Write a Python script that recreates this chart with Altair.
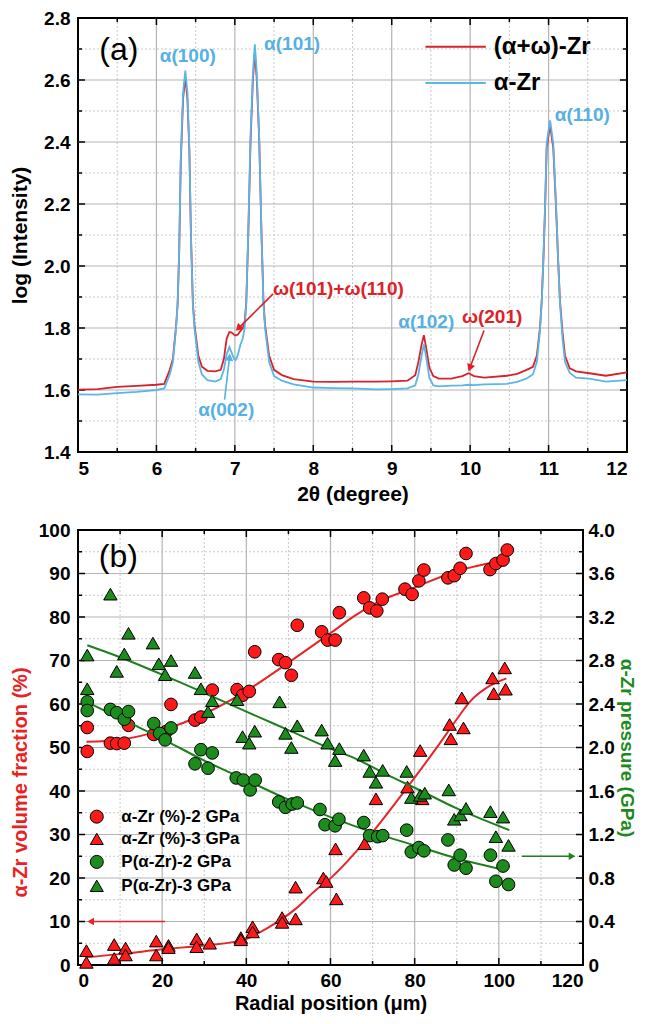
import math
import altair as alt
import pandas as pd

FONT = "Liberation Sans"
RED_LINE = "#d8222a"
BLUE_LINE = "#5ab6e6"
RED_TXT = "#dc2127"
BLUE_TXT = "#55b0e3"
PT_RED = "#ff1a1a"
PT_GREEN = "#1c8c1c"
FIT_RED = "#e3262b"
FIT_GREEN = "#1f7f1f"
GRID_C = "#b4b4b4"
GRID_M = "#c8c8c8"

# ---------------- Panel (a): XRD patterns ----------------
two_theta = [5.00, 5.25, 5.50, 5.75, 6.00, 6.10, 6.17, 6.21, 6.25, 6.27, 6.29, 6.31, 6.34, 6.368,
             6.395, 6.42, 6.44, 6.465, 6.485, 6.535, 6.58, 6.65, 6.75, 6.82, 6.86, 6.895, 6.93,
             6.96, 6.99, 7.01, 7.04, 7.07, 7.10, 7.125, 7.145, 7.17, 7.20, 7.23, 7.255, 7.28,
             7.31, 7.34, 7.365, 7.385, 7.437, 7.50, 7.60, 7.75, 8.00, 8.25, 8.50, 8.80, 9.00,
             9.20, 9.30, 9.34, 9.38, 9.41, 9.44, 9.48, 9.53, 9.60, 9.76, 9.90, 9.98, 10.05,
             10.18, 10.47, 10.60, 10.72, 10.80, 10.85, 10.89, 10.913, 10.935, 10.956, 10.976,
             11.019, 11.06, 11.095, 11.12, 11.145, 11.18, 11.21, 11.27, 11.35, 11.52, 11.73, 12.00]
log_red = [1.601, 1.603, 1.610, 1.613, 1.617, 1.620, 1.665, 1.700, 1.805, 1.876, 2.040, 2.330, 2.540, 2.610,
           2.540, 2.370, 2.100, 1.880, 1.810, 1.710, 1.675, 1.662, 1.660, 1.665, 1.700, 1.765, 1.787,
           1.785, 1.778, 1.776, 1.779, 1.790, 1.800, 1.820, 1.880, 2.090, 2.400, 2.600, 2.690, 2.600,
           2.410, 2.100, 1.885, 1.810, 1.710, 1.665, 1.648, 1.635, 1.627, 1.626, 1.627, 1.627, 1.628,
           1.630, 1.648, 1.690, 1.745, 1.777, 1.735, 1.672, 1.645, 1.637, 1.637, 1.645, 1.654, 1.645,
           1.640, 1.646, 1.652, 1.665, 1.675, 1.710, 1.800, 1.890, 2.030, 2.190, 2.380,
           2.455, 2.380, 2.190, 2.030, 1.890, 1.780, 1.710, 1.670, 1.660, 1.654, 1.646, 1.657]
log_blue = [1.586, 1.585, 1.590, 1.594, 1.600, 1.605, 1.650, 1.690, 1.800, 1.876, 2.050, 2.350, 2.560, 2.630,
            2.560, 2.380, 2.100, 1.876, 1.800, 1.690, 1.650, 1.632, 1.627, 1.635, 1.665, 1.715, 1.739,
            1.720, 1.700, 1.697, 1.715, 1.745, 1.765, 1.800, 1.876, 2.100, 2.420, 2.620, 2.715, 2.620,
            2.420, 2.100, 1.876, 1.800, 1.690, 1.645, 1.630, 1.618, 1.608, 1.606, 1.605, 1.602, 1.603,
            1.605, 1.615, 1.650, 1.710, 1.747, 1.705, 1.640, 1.615, 1.612, 1.614, 1.615, 1.617, 1.616,
            1.618, 1.620, 1.626, 1.637, 1.650, 1.690, 1.790, 1.883, 2.030, 2.200, 2.396,
            2.470, 2.396, 2.200, 2.030, 1.883, 1.760, 1.690, 1.655, 1.640, 1.637, 1.627, 1.632]

peak_text = ["α(100)", "α(101)", "α(110)", "α(102)", "α(002)", "ω(101)+ω(110)", "ω(201)"]
peak_x = [6.40, 7.73, 11.43, 9.44, 6.89, 8.32, 10.28]
peak_y = [2.679, 2.717, 2.487, 1.818, 1.537, 1.926, 1.834]
peak_col = [BLUE_TXT, BLUE_TXT, BLUE_TXT, BLUE_TXT, BLUE_TXT, RED_TXT, RED_TXT]

arrow_a_x1 = [7.487, 10.177, 6.869]
arrow_a_y1 = [1.910, 1.792, 1.569]
arrow_a_x2 = [7.045, 9.996, 6.932]
arrow_a_y2 = [1.799, 1.671, 1.706]
arrow_a_col = [RED_TXT, RED_TXT, BLUE_TXT]

leg_a_names = ["(α+ω)-Zr", "α-Zr"]
leg_a_cols = [RED_LINE, BLUE_LINE]
leg_a_x1 = [9.43, 9.43]
leg_a_x2 = [10.20, 10.20]
leg_a_y = [2.707, 2.590]
leg_a_tx = [10.30, 10.30]

xa_major = [5, 6, 7, 8, 9, 10, 11, 12]
xa_minor = [5.5, 6.5, 7.5, 8.5, 9.5, 10.5, 11.5]
ya_major = [1.4, 1.6, 1.8, 2.0, 2.2, 2.4, 2.6, 2.8]
ya_minor = [1.5, 1.7, 1.9, 2.1, 2.3, 2.5, 2.7]

# ---------------- Panel (b): volume fraction and pressure ----------------
rc_x = [2.2, 2.2, 7.7, 9.2, 11.0, 12.0, 18.0, 21.0, 22.1, 27.8, 29.2, 31.9, 37.8, 39.1, 40.7, 42.0,
        47.7, 49.3, 50.7, 52.1, 57.9, 59.3, 61.1, 62.1, 67.9, 69.3, 71.0, 72.3, 77.7, 79.4, 81.0,
        82.2, 87.9, 89.4, 90.8, 92.2, 97.9, 99.3, 101.0, 102.0]
rc_v = [49.1, 54.6, 51.0, 50.9, 51.0, 55.1, 53.0, 53.7, 59.9, 56.3, 57.0, 63.2, 63.3, 62.0, 62.9, 72.0,
        70.2, 69.5, 66.6, 78.1, 76.6, 74.7, 74.7, 81.0, 84.4, 82.1, 81.4, 84.1, 86.4, 85.2, 88.3,
        90.8, 89.0, 89.5, 91.2, 94.6, 90.9, 92.3, 93.1, 95.4]

rt_x = [2.0, 2.0, 8.6, 8.6, 11.3, 11.3, 18.6, 18.6, 21.5, 21.5, 28.2, 28.2, 31.3, 38.7, 38.7, 41.5,
        41.5, 48.5, 48.5, 51.7, 51.7, 58.3, 59.0, 61.4, 61.2, 68.1, 70.8, 78.3, 81.8, 81.3, 88.3,
        88.6, 91.2, 91.6, 98.5, 98.8, 101.4, 101.6]
rt_v = [3.3, 0.6, 4.7, 1.5, 3.9, 2.3, 5.5, 2.3, 4.5, 4.0, 6.0, 4.2, 5.0, 6.3, 5.8, 8.8,
        7.6, 10.9, 9.8, 17.9, 10.6, 20.0, 19.2, 15.2, 26.7, 27.9, 38.2, 40.9, 38.2, 49.3, 55.3,
        52.0, 61.4, 54.5, 66.0, 62.4, 68.3, 63.4]

gc_x = [2.2, 2.2, 7.7, 9.2, 11.0, 12.0, 18.0, 19.4, 20.7, 22.1, 27.8, 29.2, 30.9, 31.9, 37.6, 39.3,
        40.9, 42.1, 47.7, 49.3, 50.9, 52.1, 57.5, 58.7, 61.1, 62.0, 67.9, 69.3, 71.2, 72.4, 78.1,
        79.2, 81.0, 82.2, 87.9, 89.4, 90.8, 92.2, 98.0, 99.3, 101.0, 102.3]
gc_p = [2.42, 2.34, 2.35, 2.32, 2.26, 2.33, 2.22, 2.13, 2.07, 2.18, 1.85, 1.98, 1.81, 1.95, 1.72, 1.70,
        1.61, 1.70, 1.50, 1.45, 1.48, 1.49, 1.43, 1.29, 1.28, 1.34, 1.31, 1.19, 1.18, 1.19, 1.24,
        1.04, 1.08, 1.05, 1.15, 0.92, 1.01, 0.89, 1.01, 0.77, 0.91, 0.74]

gt_x = [2.2, 2.2, 7.7, 9.2, 11.0, 12.0, 17.8, 19.2, 20.7, 22.1, 27.8, 29.2, 30.9, 31.9, 37.8, 39.1,
        40.7, 42.0, 47.9, 49.3, 50.7, 52.1, 57.9, 59.3, 61.1, 62.1, 67.9, 69.3, 70.8, 72.4, 78.1,
        79.2, 81.3, 82.4, 88.1, 89.4, 90.9, 92.2, 98.0, 99.3, 101.0, 102.3]
gt_p = [2.85, 2.54, 3.41, 2.70, 2.86, 3.05, 2.96, 2.77, 2.67, 2.80, 2.69, 2.54, 2.33, 2.43, 2.44, 2.10,
        2.04, 2.15, 2.42, 2.13, 2.00, 2.20, 2.16, 2.04, 1.88, 1.99, 1.93, 1.78, 1.68, 1.79, 1.78,
        1.54, 1.56, 1.58, 1.61, 1.34, 1.38, 1.44, 1.41, 1.18, 1.36, 1.10]

fit_r2_x = [2, 10, 20, 30, 40, 50, 60, 65.8, 70, 80, 90, 102]
fit_r2_v = [51.3, 51.8, 54.0, 57.7, 63.0, 69.5, 76.3, 80.3, 82.8, 86.8, 90.5, 93.2]
fit_r3_x = [2, 10, 20, 30, 38.7, 45, 51.7, 56.4, 60.3, 68.1, 78.3, 86, 90, 93.1, 97.9, 101.8]
fit_r3_v = [1.8, 2.5, 3.6, 4.5, 5.6, 8.5, 12.9, 17.1, 20.2, 28.3, 40.9, 51.0, 56.5, 60.5, 64.2, 65.9]
fit_g2_x = [2, 10, 20, 30, 40, 50, 60, 70, 80, 90, 102]
fit_g2_p = [2.42, 2.27, 2.08, 1.88, 1.70, 1.52, 1.36, 1.22, 1.10, 0.98, 0.87]
fit_g3_x = [2.2, 10, 20, 31.3, 40, 50, 60, 65.8, 75, 80, 90, 102.5]
fit_g3_p = [2.94, 2.83, 2.67, 2.48, 2.33, 2.16, 1.99, 1.90, 1.72, 1.63, 1.44, 1.24]

leg_b_names = ["α-Zr (%)-2 GPa", "α-Zr (%)-3 GPa", "P(α-Zr)-2 GPa", "P(α-Zr)-3 GPa"]
leg_b_shapes = ["circle", "triangle-up", "circle", "triangle-up"]
leg_b_fills = [PT_RED, PT_RED, PT_GREEN, PT_GREEN]
leg_b_x = [4.46, 4.46, 4.46, 4.46]
leg_b_tx = [10.3, 10.3, 10.3, 10.3]
leg_b_v = [34.1, 29.0, 23.7, 18.2]

xb_major = [0, 20, 40, 60, 80, 100, 120]
xb_minor = [10, 30, 50, 70, 90, 110]
yb_major = list(range(0, 101, 10))
yb_minor = list(range(5, 100, 10))
pb_major = [0, 0.4, 0.8, 1.2, 1.6, 2.0, 2.4, 2.8, 3.2, 3.6, 4.0]

# ---------------- sizes ----------------
WA, HA = 549, 434
WB, HB = 505, 435
TMAJ, TMIN = 7, 4

# ---------------- helpers ----------------
def df(**cols):
    return pd.DataFrame(cols)


def grid_layers(xs, ys, xmaj, xmin, ymaj, ymin):
    g = []
    g.append(alt.Chart(df(v=list(xmin))).mark_rule(color=GRID_M, strokeWidth=1, strokeDash=[2, 2]).encode(x=xs("v")))
    g.append(alt.Chart(df(v=list(ymin))).mark_rule(color=GRID_M, strokeWidth=1, strokeDash=[2, 2]).encode(y=ys("v")))
    g.append(alt.Chart(df(v=xmaj[1:-1])).mark_rule(color=GRID_C, strokeWidth=1.2).encode(x=xs("v")))
    g.append(alt.Chart(df(v=ymaj[1:-1])).mark_rule(color=GRID_C, strokeWidth=1.2).encode(y=ys("v")))
    return g


def tick_layers(xs, ys, xmaj, xmin, ymaj, ymin, W, H, right=True):
    t = []
    for vals, L in ((xmaj, TMAJ), (xmin, TMIN)):
        d = df(v=vals)
        t.append(alt.Chart(d).mark_rule(color="black", strokeWidth=1.5).encode(
            x=xs("v"), y=alt.value(H), y2=alt.value(H - L)))
        t.append(alt.Chart(d).mark_rule(color="black", strokeWidth=1.5).encode(
            x=xs("v"), y=alt.value(0), y2=alt.value(L)))
    for vals, L in ((ymaj, TMAJ), (ymin, TMIN)):
        d = df(v=vals)
        t.append(alt.Chart(d).mark_rule(color="black", strokeWidth=1.5).encode(
            y=ys("v"), x=alt.value(0), x2=alt.value(L)))
        if right:
            t.append(alt.Chart(d).mark_rule(color="black", strokeWidth=1.5).encode(
                y=ys("v"), x=alt.value(W), x2=alt.value(W - L)))
    return t


def arrow_angles(x1, y1, x2, y2, kx, ky):
    out = []
    for a, b, c, d in zip(x1, y1, x2, y2):
        dx = (c - a) * kx
        dy = -(d - b) * ky
        out.append(math.degrees(math.atan2(dx, -dy)) % 360)
    return out

# ---------------- Panel (a) ----------------
sxa = alt.Scale(domain=[5, 12], nice=False, zero=False)
sya = alt.Scale(domain=[1.4, 2.8], nice=False, zero=False)
axa = alt.Axis(title="2θ (degree)", values=xa_major, format="d", grid=False, ticks=False, domain=False,
               labelPadding=7, titlePadding=5, labelFontSize=19, titleFontSize=21)
aya = alt.Axis(title="log (Intensity)", values=ya_major, format=".1f", grid=False, ticks=False, domain=False,
               labelPadding=8, titlePadding=4, minExtent=44, labelFontSize=19, titleFontSize=21)


def XA(f):
    return alt.X(f"{f}:Q", scale=sxa, axis=axa)


def YA(f):
    return alt.Y(f"{f}:Q", scale=sya, axis=aya)


curves = df(x=two_theta, r=log_red, b=log_blue)
la = []
la += grid_layers(XA, YA, xa_major, xa_minor, ya_major, ya_minor)
la += tick_layers(XA, YA, xa_major, xa_minor, ya_major, ya_minor, WA, HA)
la.append(alt.Chart(curves).mark_line(color=RED_LINE, strokeWidth=1.8).encode(x=XA("x"), y=YA("r")))
la.append(alt.Chart(curves).mark_line(color=BLUE_LINE, strokeWidth=1.8).encode(x=XA("x"), y=YA("b")))

labs = df(x=peak_x, y=peak_y, t=peak_text, c=peak_col)
la.append(alt.Chart(labs).mark_text(font=FONT, fontSize=19, fontWeight="bold", baseline="middle").encode(
    x=XA("x"), y=YA("y"), text="t:N", color=alt.Color("c:N", scale=None)))

ang_a = arrow_angles(arrow_a_x1, arrow_a_y1, arrow_a_x2, arrow_a_y2, WA / 7.0, HA / 1.4)
arr_a = df(x1=arrow_a_x1, y1=arrow_a_y1, x2=arrow_a_x2, y2=arrow_a_y2, c=arrow_a_col, ang=ang_a)
la.append(alt.Chart(arr_a).mark_rule(strokeWidth=1.6).encode(
    x=XA("x1"), y=YA("y1"), x2="x2:Q", y2="y2:Q", color=alt.Color("c:N", scale=None)))
la.append(alt.Chart(arr_a).mark_point(shape="triangle-up", filled=True, size=70, opacity=1).encode(
    x=XA("x2"), y=YA("y2"), angle=alt.Angle("ang:Q", scale=None), color=alt.Color("c:N", scale=None)))

lega = df(x1=leg_a_x1, x2=leg_a_x2, y=leg_a_y, tx=leg_a_tx, n=leg_a_names, c=leg_a_cols)
la.append(alt.Chart(lega).mark_rule(strokeWidth=2).encode(
    x=XA("x1"), x2="x2:Q", y=YA("y"), color=alt.Color("c:N", scale=None)))
la.append(alt.Chart(lega).mark_text(font=FONT, fontSize=24, fontWeight="bold", align="left", baseline="middle",
                                    color="black").encode(x=XA("tx"), y=YA("y"), text="n:N"))
la.append(alt.Chart(df(x=[5.52], y=[2.698], t=["(a)"])).mark_text(
    font=FONT, fontSize=32, fontWeight="normal", color="black").encode(x=XA("x"), y=YA("y"), text="t:N"))

panel_a = alt.layer(*la).properties(width=WA, height=HA)

# ---------------- Panel (b) ----------------
sxb = alt.Scale(domain=[0, 120], nice=False, zero=False)
syb = alt.Scale(domain=[0, 100], nice=False, zero=False)
spb = alt.Scale(domain=[0, 4], nice=False, zero=False)
axb = alt.Axis(title="Radial position (μm)", values=xb_major, format="d", grid=False, ticks=False, domain=False,
               labelPadding=6, titlePadding=3, labelFontSize=19, titleFontSize=20)
ayb = alt.Axis(title="α-Zr volume fraction (%)", values=yb_major, format="d", grid=False, ticks=False,
               domain=False, labelPadding=8, titlePadding=4, minExtent=44, labelFontSize=19, titleFontSize=20,
               titleColor="#e8231f", titleY=252)
apb = alt.Axis(title="α-Zr pressure (GPa)", values=pb_major, orient="right", grid=False, ticks=False,
               domain=False, labelPadding=5, titlePadding=2, labelFontSize=19, titleFontSize=19,
               titleColor="#1b8a1b",
               labelExpr="datum.value == 0 ? '0' : format(datum.value, '.1f')")


def XB(f):
    return alt.X(f"{f}:Q", scale=sxb, axis=axb)


def YB(f):
    return alt.Y(f"{f}:Q", scale=syb, axis=ayb)


def PB(f):
    return alt.Y(f"{f}:Q", scale=spb, axis=apb)


lb = []
lb += grid_layers(XB, YB, xb_major, xb_minor, yb_major, yb_minor)
lb += tick_layers(XB, YB, xb_major, xb_minor, yb_major, yb_minor, WB, HB)
lb.append(alt.Chart(df(x=fit_r2_x, v=fit_r2_v)).mark_line(color=FIT_RED, strokeWidth=2, interpolate="monotone").encode(
    x=XB("x"), y=YB("v")))
lb.append(alt.Chart(df(x=fit_r3_x, v=fit_r3_v)).mark_line(color=FIT_RED, strokeWidth=2, interpolate="monotone").encode(
    x=XB("x"), y=YB("v")))
lb.append(alt.Chart(df(x=rc_x, v=rc_v)).mark_point(shape="circle", size=160, filled=True, fill=PT_RED,
                                                    stroke="black", strokeWidth=1, opacity=1).encode(
    x=XB("x"), y=YB("v")))
lb.append(alt.Chart(df(x=rt_x, v=rt_v)).mark_point(shape="triangle-up", size=180, filled=True, fill=PT_RED,
                                                    stroke="black", strokeWidth=1, opacity=1).encode(
    x=XB("x"), y=YB("v")))
arr_r = df(x1=[20.7], x2=[3.0], v=[10.0], ang=[270.0])
lb.append(alt.Chart(arr_r).mark_rule(color=FIT_RED, strokeWidth=1.6).encode(x=XB("x1"), x2="x2:Q", y=YB("v")))
lb.append(alt.Chart(arr_r).mark_point(shape="triangle-up", filled=True, size=60, color=FIT_RED, opacity=1).encode(
    x=XB("x2"), y=YB("v"), angle=alt.Angle("ang:Q", scale=None)))
legb = df(x=leg_b_x, tx=leg_b_tx, v=leg_b_v, n=leg_b_names, s=leg_b_shapes, f=leg_b_fills)
lb.append(alt.Chart(legb).mark_point(size=170, filled=True, stroke="black", strokeWidth=1, opacity=1).encode(
    x=XB("x"), y=YB("v"), shape=alt.Shape("s:N", scale=None), fill=alt.Fill("f:N", scale=None)))
lb.append(alt.Chart(legb).mark_text(font=FONT, fontSize=17, fontWeight="bold", align="left", baseline="middle",
                                    color="black").encode(x=XB("tx"), y=YB("v"), text="n:N"))
lb.append(alt.Chart(df(x=[9.6], v=[93.9], t=["(b)"])).mark_text(
    font=FONT, fontSize=32, color="black").encode(x=XB("x"), y=YB("v"), text="t:N"))

rb = []
rb.append(alt.Chart(df(x=fit_g2_x, p=fit_g2_p)).mark_line(color=FIT_GREEN, strokeWidth=2, interpolate="monotone").encode(
    x=XB("x"), y=PB("p")))
rb.append(alt.Chart(df(x=fit_g3_x, p=fit_g3_p)).mark_line(color=FIT_GREEN, strokeWidth=2, interpolate="monotone").encode(
    x=XB("x"), y=PB("p")))
rb.append(alt.Chart(df(x=gc_x, p=gc_p)).mark_point(shape="circle", size=160, filled=True, fill=PT_GREEN,
                                                    stroke="black", strokeWidth=1, opacity=1).encode(
    x=XB("x"), y=PB("p")))
rb.append(alt.Chart(df(x=gt_x, p=gt_p)).mark_point(shape="triangle-up", size=180, filled=True, fill=PT_GREEN,
                                                    stroke="black", strokeWidth=1, opacity=1).encode(
    x=XB("x"), y=PB("p")))
arr_g = df(x1=[105.5], x2=[117.4], p=[1.0], ang=[90.0])
rb.append(alt.Chart(arr_g).mark_rule(color=FIT_GREEN, strokeWidth=1.6).encode(x=XB("x1"), x2="x2:Q", y=PB("p")))
rb.append(alt.Chart(arr_g).mark_point(shape="triangle-up", filled=True, size=60, color=FIT_GREEN, opacity=1).encode(
    x=XB("x2"), y=PB("p"), angle=alt.Angle("ang:Q", scale=None)))

panel_b = alt.layer(alt.layer(*lb), alt.layer(*rb)).resolve_scale(y="independent").properties(width=WB, height=HB)

chart = alt.vconcat(panel_a, panel_b, spacing=15).properties(
    padding={"left": 0, "top": 0, "right": 0, "bottom": 0}
).configure(font=FONT).configure_view(stroke="black", strokeWidth=2).configure_axis(
    labelFont=FONT, titleFont=FONT, labelFontWeight="bold", titleFontWeight="bold",
    labelColor="black", titleColor="black"
)

chart.save("out.html", embed_options={"renderer": "svg", "actions": False})
